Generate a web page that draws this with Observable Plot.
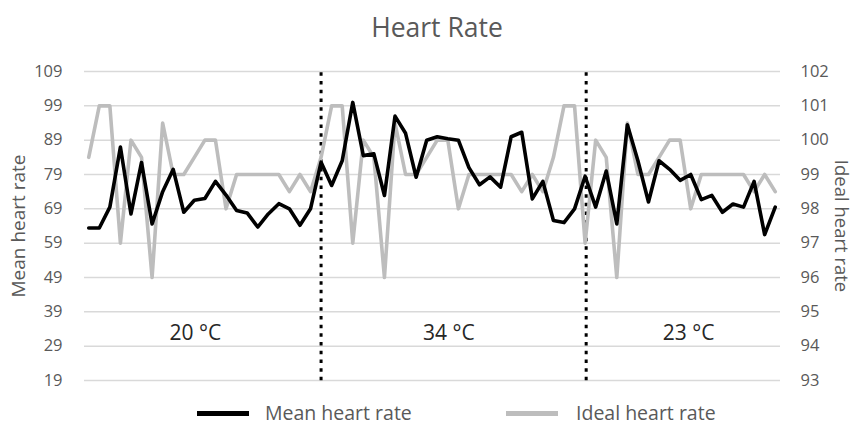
<!DOCTYPE html>
<html><head><meta charset="utf-8">
<script src="https://cdn.jsdelivr.net/npm/d3@7"></script>
<script src="https://cdn.jsdelivr.net/npm/@observablehq/plot@0.6"></script>
<style>
body{margin:0;background:#fff;font-family:"Open Sans",sans-serif;}
#wrap{position:relative;width:852px;height:428px;overflow:hidden;background:#fff;}
#title{position:absolute;top:9px;left:437px;transform:translateX(-50%);font-size:26.5px;color:#595959;white-space:nowrap;}
#chart{position:absolute;top:50px;left:0;}
#legend{position:absolute;top:398px;left:0;width:852px;height:30px;}
.sw{position:absolute;top:13px;height:5px;width:52px;}
.lt{position:absolute;top:0;font-size:19.5px;color:#595959;white-space:nowrap;line-height:30px;}
</style></head><body>
<div id="wrap">
  <div id="title">Heart Rate</div>
  <div id="chart"></div>
  <div id="legend">
    <div class="sw" style="left:197px;background:#000"></div>
    <div class="lt" style="left:265px">Mean heart rate</div>
    <div class="sw" style="left:506px;background:#bdbdbd"></div>
    <div class="lt" style="left:576px">Ideal heart rate</div>
  </div>
</div>
<script>
// Mean heart rate (left axis), one value per sample
const meanHR = [63.4,63.4,69.5,87,67.5,82.5,64.6,74,80.5,68,71.5,72,77,73,68.5,67.8,63.7,67.5,70.5,69,64.2,69,
  82.6,75.8,83,100,84.5,85,72.9,96,91,78.2,89,90,89.4,89,81,76,78.3,75.3,90,91.3,71.9,77,
  65.6,65,69,78.5,69.5,80,64.6,93.5,83,71,83,80.5,77.3,79,71.7,72.9,68,70.4,69.5,77,61.5,69.5];
// Ideal heart rate (right axis)
const idealHR = [99.5,101,101,97,100,99.5,96,100.5,99,99,99.5,100,100,98,99,99,99,99,99,98.5,99,98.5,
  99.5,101,101,97,100,99.5,96,100.5,99,99,99.5,100,100,98,99,99,99,99,99,98.5,99,98.5,
  99.5,101,101,97,100,99.5,96,100.5,99,99,99.5,100,100,98,99,99,99,99,99,98.5,99,98.5];
const leftTicks = [19,29,39,49,59,69,79,89,99,109];
const rightTicks = [93,94,95,96,97,98,99,100,101,102];
const tempLabels = ["20 °C","34 °C","23 °C"];
const tempLabelAt = [10.1,34.1,56.8];   // sample index where each label is centred
const tempLabelLevel = 32.7;            // left-axis value of the labels
const separators = [22,47.1];           // sample index of dotted dividers

const idx = d3.range(meanHR.length);
const toLeft = r => leftTicks[0] + (r - rightTicks[0]) * (leftTicks[1]-leftTicks[0]) / (rightTicks[1]-rightTicks[0]);

const chart = Plot.plot({
  width: 852, height: 345,
  marginLeft: 84, marginRight: 72, marginTop: 21, marginBottom: 15,
  x: {type: "linear", domain: [-0.4, 65.5], axis: null},
  y: {domain: [19, 109]},
  style: {fontFamily: '"Open Sans", sans-serif', fontSize: "16.5px", color: "#595959", background: "white", overflow: "visible"},
  marks: [
    Plot.ruleY(leftTicks, {stroke: "#d9d9d9", strokeWidth: 1.5}),
    Plot.axisY(leftTicks, {anchor: "left", tickSize: 0, tickPadding: 22, label: null, fill: "#595959"}),
    Plot.axisY(leftTicks, {anchor: "right", tickSize: 0, tickPadding: 20, label: null, fill: "#595959",
      tickFormat: d => rightTicks[leftTicks.indexOf(d)]}),
    Plot.ruleX(separators, {y1: 108.6, y2: 18.4, stroke: "#000", strokeWidth: 3, strokeDasharray: "3.5,5.2"}),
    Plot.line(idx, {x: d => d, y: d => toLeft(idealHR[d]), stroke: "#bdbdbd", strokeWidth: 3.6}),
    Plot.line(idx, {x: d => d, y: d => meanHR[d], stroke: "#000", strokeWidth: 3.6}),
    Plot.text(tempLabels, {x: (d, i) => tempLabelAt[i], y: () => tempLabelLevel, text: d => d, fill: "#262626", fontSize: 21}),
    Plot.text(["Mean heart rate"], {frameAnchor: "left", textAnchor: "middle", dx: -66, rotate: -90, fill: "#595959", fontSize: 19}),
    Plot.text(["Ideal heart rate"], {frameAnchor: "right", textAnchor: "middle", dx: 60, rotate: 90, fill: "#595959", fontSize: 18.5})
  ]
});
document.getElementById("chart").appendChild(chart);
</script>
</body></html>
